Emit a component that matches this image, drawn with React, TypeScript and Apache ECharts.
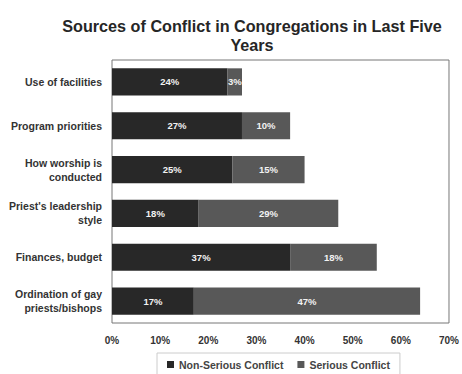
import React, { useEffect, useRef } from "react";
import * as echarts from "echarts";

const categories = [
  "Use of facilities",
  "Program priorities",
  "How worship is\nconducted",
  "Priest's leadership\nstyle",
  "Finances, budget",
  "Ordination of gay\npriests/bishops",
];
const nonSerious = [24, 27, 25, 18, 37, 17];
const serious = [3, 10, 15, 29, 18, 47];
const xTicks = { min: 0, max: 70, interval: 10 };

export default function App() {
  const ref = useRef<HTMLDivElement>(null);
  useEffect(() => {
    if (!ref.current) return;
    const chart = echarts.init(ref.current, null, { renderer: "svg" });
    const font = "Arial, 'Liberation Sans', sans-serif";
    const labelStyle = {
      show: true,
      position: "inside" as const,
      formatter: (p: any) => p.value + "%",
      color: "#f2f2f2",
      fontWeight: "bold" as const,
      fontSize: 9.5,
      fontFamily: font,
    };
    chart.setOption({
      animation: false,
      backgroundColor: "#ffffff",
      title: {
        text: "Sources of Conflict in Congregations in Last Five\nYears",
        left: 247,
        textAlign: "center",
        top: 11,
        textStyle: {
          fontFamily: font,
          fontWeight: "bold",
          fontSize: 16.2,
          lineHeight: 19,
          color: "#262626",
        },
      },
      grid: {
        left: 112,
        right: 7,
        top: 60,
        bottom: 51,
        show: true,
        borderColor: "#777",
        borderWidth: 1,
      },
      xAxis: {
        type: "value",
        min: xTicks.min,
        max: xTicks.max,
        interval: xTicks.interval,
        splitLine: { show: false },
        axisLine: { show: false },
        axisTick: { show: false },
        axisLabel: {
          formatter: "{value}%",
          fontFamily: font,
          fontWeight: "bold",
          fontSize: 10,
          color: "#333",
          margin: 12,
        },
      },
      yAxis: {
        type: "category",
        data: categories,
        inverse: true,
        axisLine: { show: false },
        axisTick: { show: false },
        axisLabel: {
          fontFamily: font,
          fontWeight: "bold",
          fontSize: 10.5,
          color: "#333",
          lineHeight: 14,
          margin: 10,
          align: "right",
        },
      },
      legend: {
        bottom: -4,
        left: 157,
        itemWidth: 7,
        itemHeight: 7,
        itemGap: 14,
        padding: [6, 10, 8, 10],
        borderColor: "#ccc",
        borderWidth: 1,
        icon: "rect",
        textStyle: {
          fontFamily: font,
          fontWeight: "bold",
          fontSize: 10.5,
          color: "#444",
        },
        data: ["Non-Serious Conflict", "Serious Conflict"],
      },
      series: [
        {
          name: "Non-Serious Conflict",
          type: "bar",
          stack: "total",
          data: nonSerious,
          barCategoryGap: "38%",
          itemStyle: { color: "#282828" },
          label: labelStyle,
        },
        {
          name: "Serious Conflict",
          type: "bar",
          stack: "total",
          data: serious,
          barCategoryGap: "38%",
          itemStyle: { color: "#585858" },
          label: labelStyle,
        },
      ],
    });
    return () => chart.dispose();
  }, []);
  return (
    <div
      ref={ref}
      style={{ position: "absolute", left: 0, top: 0, width: 462, height: 374 }}
    />
  );
}
